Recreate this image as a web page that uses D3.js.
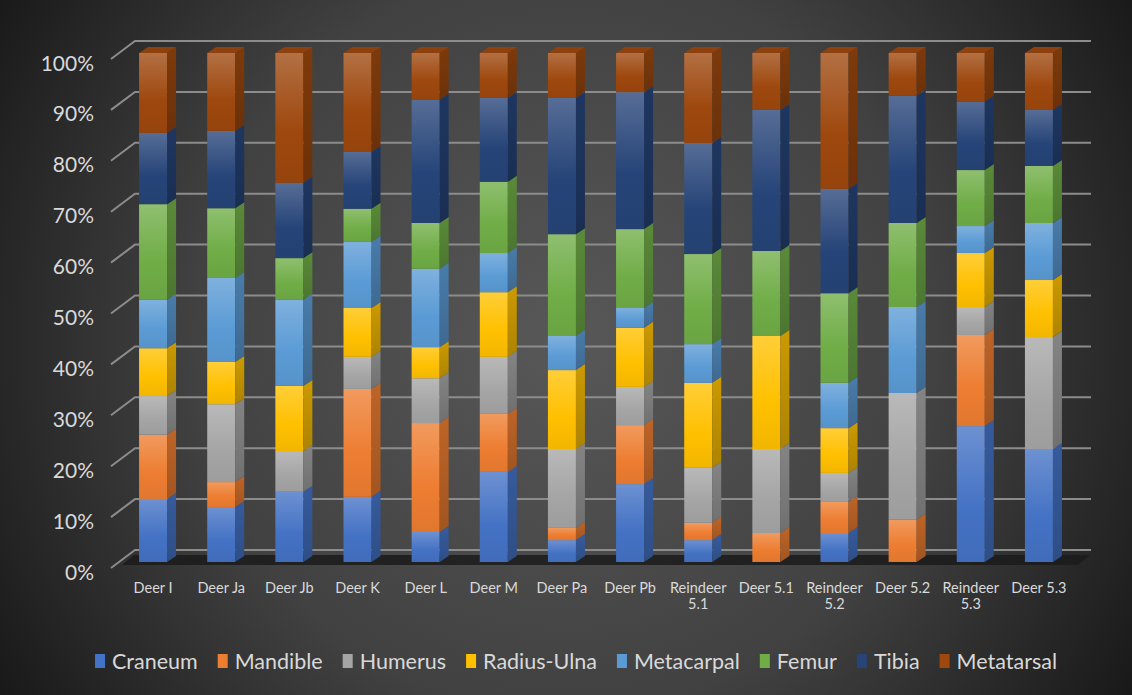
<!DOCTYPE html>
<html><head><meta charset="utf-8">
<script src="https://cdn.jsdelivr.net/npm/d3@7"></script>
<style>html,body{margin:0;padding:0;background:#2a2a2a;}svg{display:block;}</style>
</head><body>
<svg id="chart" width="1132" height="695"></svg>
<script>
const categories = ["Deer I","Deer Ja","Deer Jb","Deer K","Deer L","Deer M","Deer Pa","Deer Pb","Reindeer 5.1","Deer 5.1","Reindeer 5.2","Deer 5.2","Reindeer 5.3","Deer 5.3"];
const seriesNames = ["Craneum","Mandible","Humerus","Radius-Ulna","Metacarpal","Femur","Tibia","Metatarsal"];
const craneum    = [12.4,10.8,13.8,12.8, 5.9,17.7, 4.3,15.3, 4.3, 0.0, 5.7, 0.0,26.7,22.2];
const mandible   = [12.6, 4.9, 0.0,21.2,21.4,11.4, 2.4,11.6, 3.4, 5.7, 6.1, 8.3,17.9, 0.0];
const humerus    = [ 7.6,15.3, 8.0, 6.3, 8.8,11.2,15.5, 7.5,10.8,16.5, 5.7,24.9, 5.5,22.0];
const radiusUlna = [ 9.4, 8.3,12.8, 9.6, 6.1,12.7,15.5,11.6,16.7,22.2, 8.8, 0.0,10.6,11.2];
const metacarpal = [ 9.5,16.5,16.9,13.0,15.4, 7.7, 6.7, 3.9, 7.6, 0.0, 8.9,16.9, 5.3,11.2];
const femur      = [18.8,13.7, 8.2, 6.5, 9.0,14.0,20.0,15.5,17.7,16.7,17.6,16.5,11.0,11.2];
const tibia      = [14.0,15.2,14.8,11.2,24.2,16.5,26.8,26.9,21.8,27.7,20.5,25.0,13.4,11.0];
const metatarsal = [15.7,15.3,25.5,19.4, 9.2, 8.8, 8.8, 7.7,17.7,11.2,26.7, 8.4, 9.6,11.2];
const yTicks = [0,0.1,0.2,0.3,0.4,0.5,0.6,0.7,0.8,0.9,1.0];
const colors = ["#4472C4","#ED7D31","#A5A5A5","#FFC000","#5B9BD5","#70AD47","#264478","#9E480E"];

const seriesValues = [craneum,mandible,humerus,radiusUlna,metacarpal,femur,tibia,metatarsal];
const rows = categories.map((c,i)=>{const r={cat:c}; seriesNames.forEach((s,k)=>r[s]=seriesValues[k][i]); return r;});
const stacked = d3.stack().keys(seriesNames).offset(d3.stackOffsetExpand)(rows);

const svg = d3.select("#chart");
const W=1132,H=695;
const defs = svg.append("defs");
const bg = defs.append("radialGradient").attr("id","bg").attr("gradientUnits","userSpaceOnUse")
  .attr("cx",566).attr("cy",340).attr("r",680);
bg.append("stop").attr("offset","0").attr("stop-color","#585858");
bg.append("stop").attr("offset","0.55").attr("stop-color","#414141");
bg.append("stop").attr("offset","1").attr("stop-color","#171717");
svg.append("rect").attr("width",W).attr("height",H).attr("fill","url(#bg)");

colors.forEach((c,k)=>{
  const g=defs.append("linearGradient").attr("id","f"+k).attr("x1",0).attr("y1",0).attr("x2",0).attr("y2",1);
  g.append("stop").attr("offset","0").attr("stop-color",d3.interpolateRgb(c,"#ffffff")(0.22));
  g.append("stop").attr("offset","0.6").attr("stop-color",c);
  g.append("stop").attr("offset","1").attr("stop-color",d3.interpolateRgb(c,"#000000")(0.05));
  const s=defs.append("linearGradient").attr("id","s"+k).attr("x1",0).attr("y1",0).attr("x2",0).attr("y2",1);
  s.append("stop").attr("offset","0").attr("stop-color",d3.interpolateRgb(c,"#000000")(0.2));
  s.append("stop").attr("offset","1").attr("stop-color",d3.interpolateRgb(c,"#000000")(0.32));
});

const x = d3.scaleBand().domain(categories).range([119,1073]).paddingInner(0).paddingOuter(0);
const y = d3.scaleLinear().domain([0,1]).range([562,53]);
const barW = 28, dx = 9, dy = -6;
const gridFrontX = 111, gridBackX = 135, gridEndX = 1091;

// gridlines
const grid = svg.append("g");
yTicks.forEach(t=>{
  grid.append("polyline")
    .attr("points",`${gridFrontX},${y(t)+6} ${gridBackX},${y(t)-12} ${gridEndX},${y(t)-12}`)
    .attr("fill","none").attr("stroke","#8c8c8c").attr("stroke-width",2);
});
// floor shadow
svg.append("polygon").attr("points","134,555 1090,555 1078,565 122,565").attr("fill","#1b1b1b").attr("opacity",0.85);

// y labels
svg.append("g").selectAll("text").data(yTicks).join("text")
  .attr("x",94).attr("y",d=>y(d)+9).attr("text-anchor","end").attr("dominant-baseline","central")
  .attr("font-family","Lato, 'Open Sans', sans-serif").attr("font-size",21).attr("fill","#d9d9d9")
  .text(d=>d3.format(".0%")(d));

// bars
const bars = svg.append("g");
categories.forEach((c,i)=>{
  const cx = x(c)+x.bandwidth()/2;
  const x0 = cx-barW/2, x1 = cx+barW/2;
  let topK=-1;
  stacked.forEach((layer,k)=>{
    const d=layer[i]; if(d[1]-d[0]<=0) return;
    topK=k;
    const yt=y(d[1]), yb=y(d[0]);
    bars.append("rect").attr("x",x0).attr("y",yt).attr("width",barW).attr("height",yb-yt).attr("fill",`url(#f${k})`);
    bars.append("polygon").attr("points",`${x1},${yt} ${x1+dx},${yt+dy} ${x1+dx},${yb+dy} ${x1},${yb}`).attr("fill",`url(#s${k})`);
  });
  if(topK>=0){
    const yt=y(stacked[topK][i][1]);
    bars.append("polygon").attr("points",`${x0},${yt} ${x0+dx},${yt+dy} ${x1+dx},${yt+dy} ${x1},${yt}`)
      .attr("fill",d3.interpolateRgb(colors[topK],"#000000")(0.1));
  }
});

// x labels
const xl = svg.append("g");
categories.forEach(c=>{
  const cx = x(c)+x.bandwidth()/2;
  const lines = c.length>9 ? c.split(" ") : [c];
  const t = xl.append("text").attr("x",cx).attr("y",593).attr("text-anchor","middle")
    .attr("font-family","Lato, 'Open Sans', sans-serif").attr("font-size",14.5).attr("fill","#d9d9d9");
  lines.forEach((l,j)=>t.append("tspan").attr("x",cx).attr("dy",j?16:0).text(l));
});

// legend
const lg = svg.append("g");
const items = seriesNames.map((n,k)=>{
  const g=lg.append("g");
  g.append("rect").attr("x",0).attr("y",-7).attr("width",10).attr("height",14).attr("fill",colors[k]);
  const t=g.append("text").attr("x",17).attr("y",0).attr("dominant-baseline","central")
    .attr("font-family","Lato, 'Open Sans', sans-serif").attr("font-size",21.5).attr("fill","#d9d9d9").text(n);
  return {g,w:17+t.node().getComputedTextLength()};
});
const gap=20;
const total=d3.sum(items,d=>d.w)+gap*(items.length-1);
let lx=576-total/2;
items.forEach(it=>{it.g.attr("transform",`translate(${lx},661)`); lx+=it.w+gap;});
</script>
</body></html>
